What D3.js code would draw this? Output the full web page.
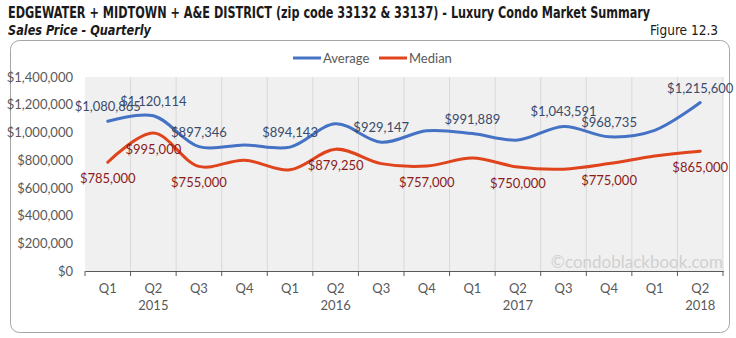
<!DOCTYPE html>
<html>
<head>
<meta charset="utf-8">
<script src="https://cdn.jsdelivr.net/npm/d3@7"></script>
<style>
	body { margin: 0; background: #fff; }
	svg { display: block; }
	.tick text { font-family: Lato, "Open Sans", sans-serif; }
</style>
</head>
<body>
<div class="chart"></div>
<script>
const quarters = ['Q1', 'Q2', 'Q3', 'Q4', 'Q1', 'Q2', 'Q3', 'Q4', 'Q1', 'Q2', 'Q3', 'Q4', 'Q1', 'Q2']
const years = ['', '2015', '', '', '', '2016', '', '', '', '2017', '', '', '', '2018']
const average = [1080865, 1120114, 897346, 910000, 894143, 1062000, 929147, 1012000, 991889, 945000, 1043591, 968735, 1015000, 1215600]
const median = [785000, 995000, 755000, 800000, 730000, 879250, 775000, 757000, 815000, 750000, 735000, 775000, 830000, 865000]
// which points carry a value label
const avgLabeled = [0, 1, 2, 4, 6, 8, 10, 11, 13]
const medLabeled = [0, 1, 2, 5, 7, 9, 11, 13]
const yTicks = [0, 200000, 400000, 600000, 800000, 1000000, 1200000, 1400000]

const W = 736, H = 338
const m = { l: 85, r: 723, t: 77, b: 271 }
const fmt = d3.format('$,')
const narrow = '"Liberation Sans Narrow", "Arial Narrow", "DejaVu Sans Condensed", sans-serif'

const svg = d3.select('div.chart').append('svg')
	.attr('width', W)
	.attr('height', H)

// squeeze a text horizontally to a given width (narrow font stand-in)
const squeeze = (sel, x0, y0, width, anchorEnd) => {
	const w = sel.node().getComputedTextLength()
	const sx = Math.min(1, width / w)
	sel.attr('transform', `translate(${x0},${y0}) scale(${sx},1)`)
	if (anchorEnd) sel.attr('text-anchor', 'end')
}

// titles
squeeze(svg.append('text')
	.style('font', `bold 15px ${narrow}`)
	.style('fill', '#1a1a1a')
	.text('EDGEWATER + MIDTOWN + A&E DISTRICT (zip code 33132 & 33137) - Luxury Condo Market Summary'), 8, 18, 643)
squeeze(svg.append('text')
	.style('font', `italic bold 14px ${narrow}`)
	.style('fill', '#1a1a1a')
	.text('Sales Price - Quarterly'), 8, 35, 143)
squeeze(svg.append('text')
	.style('font', `14px ${narrow}`)
	.style('fill', '#1a1a1a')
	.text('Figure 12.3'), 718, 35, 68, true)

// chart frame
svg.append('rect')
	.attr('x', 10.5).attr('y', 40.5)
	.attr('width', 719).attr('height', 292)
	.attr('rx', 9)
	.style('fill', 'none')
	.style('stroke', '#a6a6a6')

const x = d3.scaleBand()
	.domain(d3.range(quarters.length))
	.range([m.l, m.r])
const y = d3.scaleLinear()
	.domain([0, 1400000])
	.range([m.b, m.t])

// plot background + vertical grid
svg.append('rect')
	.attr('x', m.l).attr('y', m.t)
	.attr('width', m.r - m.l).attr('height', m.b - m.t)
	.style('fill', '#f0f0f0')
svg.append('g')
	.selectAll('line')
	.data(d3.range(1, quarters.length + 1))
	.join('line')
	.attr('x1', i => m.l + i * x.step()).attr('x2', i => m.l + i * x.step())
	.attr('y1', m.t).attr('y2', m.b)
	.style('stroke', '#d9d9d9')

// y axis
const yAxis = svg.append('g')
	.attr('transform', `translate(${m.l},0)`)
	.call(d3.axisLeft(y).tickValues(yTicks).tickFormat(fmt).tickSize(0).tickPadding(12))
yAxis.select('.domain').remove()
yAxis.selectAll('text').style('font-size', '13px').style('fill', '#595959')

// watermark
svg.append('text')
	.attr('x', m.r).attr('y', m.b - 3)
	.attr('text-anchor', 'end')
	.style('font', '17px Lato, "Open Sans", sans-serif')
	.style('fill', '#d0d0d0')
	.text('©condoblackbook.com')

// x axis
const xAxis = svg.append('g')
	.attr('transform', `translate(0,${m.b})`)
	.call(d3.axisBottom(x).tickSize(0).tickFormat(i => quarters[i]).tickPadding(13))
xAxis.select('.domain').style('stroke', '#595959')
xAxis.selectAll('.tick text').style('font-size', '13px').style('fill', '#595959')
xAxis.selectAll('.tick').append('text')
	.attr('y', 30)
	.attr('dy', '0.71em')
	.style('font-size', '13px').style('fill', '#595959')
	.text(i => years[i])
svg.append('g')
	.selectAll('line')
	.data(d3.range(quarters.length + 1))
	.join('line')
	.attr('x1', i => m.l + i * x.step()).attr('x2', i => m.l + i * x.step())
	.attr('y1', m.b).attr('y2', m.b + 5)
	.style('stroke', '#595959')

// lines
const cx = i => x(i) + x.bandwidth() / 2
const line = d3.line()
	.x((d, i) => cx(i))
	.y(d => y(d))
	.curve(d3.curveCatmullRom.alpha(0.5))

const series = [
	{ name: 'Average', values: average, color: '#4472c4', label: '#3a4a6b', idx: avgLabeled, dy: -10 },
	{ name: 'Median', values: median, color: '#e0441c', label: '#8b1a1a', idx: medLabeled, dy: 21 }
]

series.forEach(s => {
	svg.append('path')
		.datum(s.values)
		.attr('d', line)
		.style('fill', 'none')
		.style('stroke', s.color)
		.style('stroke-width', 3)
		.style('stroke-linecap', 'round')
	svg.append('g')
		.selectAll('text')
		.data(s.idx)
		.join('text')
		.attr('x', i => cx(i))
		.attr('y', i => y(s.values[i]) + s.dy)
		.attr('text-anchor', 'middle')
		.style('font', '13px Lato, "Open Sans", sans-serif')
		.style('fill', s.label)
		.text(i => fmt(s.values[i]))
})

// legend
const legend = svg.append('g').attr('transform', 'translate(293,58)')
const lg = legend.selectAll('g')
	.data(series)
	.join('g')
	.attr('transform', (d, i) => `translate(${i * 86},0)`)
lg.append('line')
	.attr('x1', 0).attr('x2', 28)
	.style('stroke', d => d.color)
	.style('stroke-width', 3)
lg.append('text')
	.attr('x', 30).attr('dy', '0.35em')
	.style('font', '13px Lato, "Open Sans", sans-serif')
	.style('fill', '#595959')
	.text(d => d.name)
</script>
</body>
</html>
